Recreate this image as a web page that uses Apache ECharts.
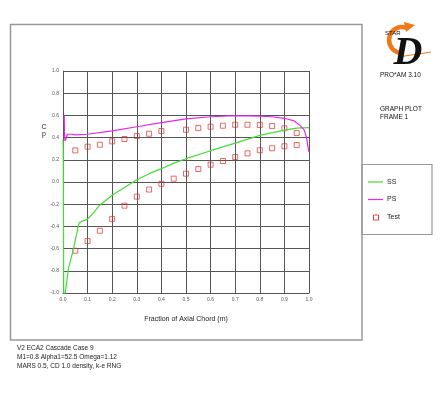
<!DOCTYPE html>
<html>
<head>
<meta charset="utf-8">
<script src="https://cdn.jsdelivr.net/npm/echarts@6/dist/echarts.min.js"></script>
<style>
html,body{margin:0;padding:0;background:#fff;}
#chart{width:440px;height:399px;}
</style>
</head>
<body>
<div id="chart"></div>
<script>
// Suction side (SS) Cp
const ssX  = [0.0, 0.001, 0.002, 0.003, 0.007, 0.009, 0.022, 0.042, 0.056, 0.065, 0.075, 0.1, 0.123, 0.15, 0.2, 0.25, 0.3, 0.35, 0.4, 0.45, 0.5, 0.6, 0.7, 0.8, 0.9, 0.95, 1.0];
const ssCp = [0.38, 0.30, -0.40, -1.05, -1.05, -1.0, -0.78, -0.61, -0.46, -0.37, -0.355, -0.335, -0.28, -0.207, -0.12, -0.05, 0.02, 0.075, 0.12, 0.17, 0.21, 0.282, 0.35, 0.42, 0.468, 0.485, 0.49];
// Pressure side (PS) Cp
const psX  = [0.005, 0.006, 0.008, 0.012, 0.018, 0.025, 0.035, 0.05, 0.1, 0.2, 0.3, 0.4, 0.5, 0.6, 0.7, 0.8, 0.85, 0.9, 0.94, 0.963, 0.98, 0.99, 0.997, 1.0];
const psCp = [0.60, 0.45, 0.37, 0.39, 0.43, 0.44, 0.43, 0.425, 0.43, 0.46, 0.498, 0.535, 0.568, 0.588, 0.597, 0.594, 0.588, 0.574, 0.55, 0.51, 0.47, 0.40, 0.30, 0.27];
// Test data
const testX  = [0.05, 0.1, 0.15, 0.2, 0.25, 0.3, 0.35, 0.4, 0.5, 0.55, 0.6, 0.65, 0.7, 0.75, 0.8, 0.85, 0.9, 0.95,
                0.05, 0.1, 0.15, 0.2, 0.25, 0.3, 0.35, 0.4, 0.45, 0.5, 0.55, 0.6, 0.65, 0.7, 0.75, 0.8, 0.85, 0.9, 0.95];
const testCp = [0.285, 0.318, 0.336, 0.366, 0.387, 0.414, 0.435, 0.459, 0.471, 0.486, 0.498, 0.507, 0.516, 0.516, 0.514, 0.505, 0.484, 0.441,
                -0.619, -0.532, -0.439, -0.333, -0.213, -0.132, -0.068, -0.016, 0.03, 0.075, 0.117, 0.156, 0.189, 0.225, 0.258, 0.286, 0.304, 0.322, 0.333];
const seriesNames = ['SS', 'PS', 'Test'];
const footerLines = ['V2 ECA2 Cascade Case 9', 'M1=0.8 Alpha1=52.5 Omega=1.12', 'MARS 0.5, CD 1.0 density, k-e RNG'];

const zip = (a, b) => a.map((v, i) => [v, b[i]]);
const FONT = 'Liberation Sans, Arial, sans-serif';

const chart = echarts.init(document.getElementById('chart'), null, {renderer: 'canvas'});
const option = {
  backgroundColor: '#fff',
  animation: false,
  grid: {left: 63, top: 71, width: 246, height: 222, containLabel: false},
  xAxis: {
    type: 'value', min: 0, max: 1, interval: 0.1,
    axisLine: {show: true, onZero: false, lineStyle: {color: '#555', width: 1}},
    axisTick: {show: false},
    splitLine: {show: true, showMinLine: true, showMaxLine: true, lineStyle: {color: '#555', width: 1}},
    axisLabel: {fontSize: 5, color: '#555', margin: 4, fontFamily: FONT, formatter: v => v.toFixed(1)}
  },
  yAxis: {
    type: 'value', min: -1, max: 1, interval: 0.2,
    axisLine: {show: true, onZero: false, lineStyle: {color: '#555', width: 1}},
    axisTick: {show: false},
    splitLine: {show: true, showMinLine: true, showMaxLine: true, lineStyle: {color: '#555', width: 1}},
    axisLabel: {fontSize: 5, color: '#555', margin: 4, fontFamily: FONT, formatter: v => v.toFixed(1)}
  },
  series: [
    {name: seriesNames[0], type: 'line', data: zip(ssX, ssCp), showSymbol: false, clip: true,
     lineStyle: {color: '#44dd33', width: 1.2}, itemStyle: {color: '#44dd33'}},
    {name: seriesNames[1], type: 'line', data: zip(psX, psCp), showSymbol: false, clip: true,
     lineStyle: {color: '#ee22ee', width: 1.2}, itemStyle: {color: '#ee22ee'}},
    {name: seriesNames[2], type: 'scatter', data: zip(testX, testCp), symbol: 'rect', symbolSize: 5,
     itemStyle: {color: 'rgba(255,255,255,0)', borderColor: '#e03030', borderWidth: 0.9}}
  ],
  graphic: [
    // outer frame
    {type: 'rect', shape: {x: 10.5, y: 24.5, width: 351.5, height: 315.5}, style: {fill: null, stroke: '#999', lineWidth: 1.5}, silent: true},
    // legend box
    {type: 'rect', shape: {x: 362, y: 164.5, width: 70, height: 70}, style: {fill: null, stroke: '#999', lineWidth: 1.2}, silent: true},
    {type: 'line', shape: {x1: 368, y1: 182, x2: 383, y2: 182}, style: {stroke: '#44dd33', lineWidth: 1.2}},
    {type: 'text', style: {x: 387, y: 182, text: seriesNames[0], fontSize: 7, fontFamily: FONT, fill: '#222', verticalAlign: 'middle'}},
    {type: 'line', shape: {x1: 368, y1: 199.5, x2: 383, y2: 199.5}, style: {stroke: '#ee22ee', lineWidth: 1.2}},
    {type: 'text', style: {x: 387, y: 199.5, text: seriesNames[1], fontSize: 7, fontFamily: FONT, fill: '#222', verticalAlign: 'middle'}},
    {type: 'rect', shape: {x: 373.5, y: 215, width: 5, height: 5}, style: {fill: 'rgba(255,255,255,0)', stroke: '#e03030', lineWidth: 0.9}},
    {type: 'text', style: {x: 387, y: 217, text: seriesNames[2], fontSize: 7, fontFamily: FONT, fill: '#222', verticalAlign: 'middle'}},
    // axis titles
    {type: 'text', style: {x: 44, y: 127, text: 'C', fontSize: 7, fontFamily: FONT, fill: '#222', align: 'center', verticalAlign: 'middle'}},
    {type: 'text', style: {x: 44, y: 134, text: 'p', fontSize: 7, fontFamily: FONT, fill: '#222', align: 'center', verticalAlign: 'middle'}},
    {type: 'text', style: {x: 186, y: 319, text: 'Fraction of Axial Chord (m)', fontSize: 7, fontFamily: FONT, fill: '#222', align: 'center', verticalAlign: 'middle'}},
    // footer
    {type: 'text', style: {x: 17, y: 348, text: footerLines[0], fontSize: 6.5, fontFamily: FONT, fill: '#222', verticalAlign: 'middle'}},
    {type: 'text', style: {x: 17, y: 357, text: footerLines[1], fontSize: 6.5, fontFamily: FONT, fill: '#222', verticalAlign: 'middle'}},
    {type: 'text', style: {x: 17, y: 366, text: footerLines[2], fontSize: 6.5, fontFamily: FONT, fill: '#222', verticalAlign: 'middle'}},
    // logo
    {type: 'arc', shape: {cx: 402, cy: 40, r: 13, startAngle: -Math.PI * 0.38, endAngle: Math.PI * 0.55, clockwise: false},
     style: {stroke: '#f07a1a', lineWidth: 4.5, fill: null}},
    {type: 'polygon', shape: {points: [[404, 22], [415, 25], [406, 32]]}, style: {fill: '#f07a1a'}},
    {type: 'line', shape: {x1: 398, y1: 57, x2: 431, y2: 52}, style: {stroke: '#f07a1a', lineWidth: 1}},
    {type: 'text', style: {x: 408, y: 54, text: 'D', fontSize: 40, fontStyle: 'italic', fontWeight: 'bold', fontFamily: 'Liberation Serif, Times New Roman, serif', fill: '#111', align: 'center', verticalAlign: 'middle'}},
    {type: 'text', style: {x: 385, y: 33, text: 'STAR', fontSize: 6, fontFamily: FONT, fill: '#111', verticalAlign: 'middle'}},
    {type: 'text', style: {x: 380, y: 75, text: 'PRO*AM 3.10', fontSize: 6.5, fontFamily: FONT, fill: '#111', verticalAlign: 'middle'}},
    {type: 'text', style: {x: 380, y: 109, text: 'GRAPH PLOT', fontSize: 6.5, fontFamily: FONT, fill: '#111', verticalAlign: 'middle'}},
    {type: 'text', style: {x: 380, y: 117.5, text: 'FRAME 1', fontSize: 6.5, fontFamily: FONT, fill: '#111', verticalAlign: 'middle'}}
  ]
};
chart.setOption(option);
</script>
</body>
</html>
